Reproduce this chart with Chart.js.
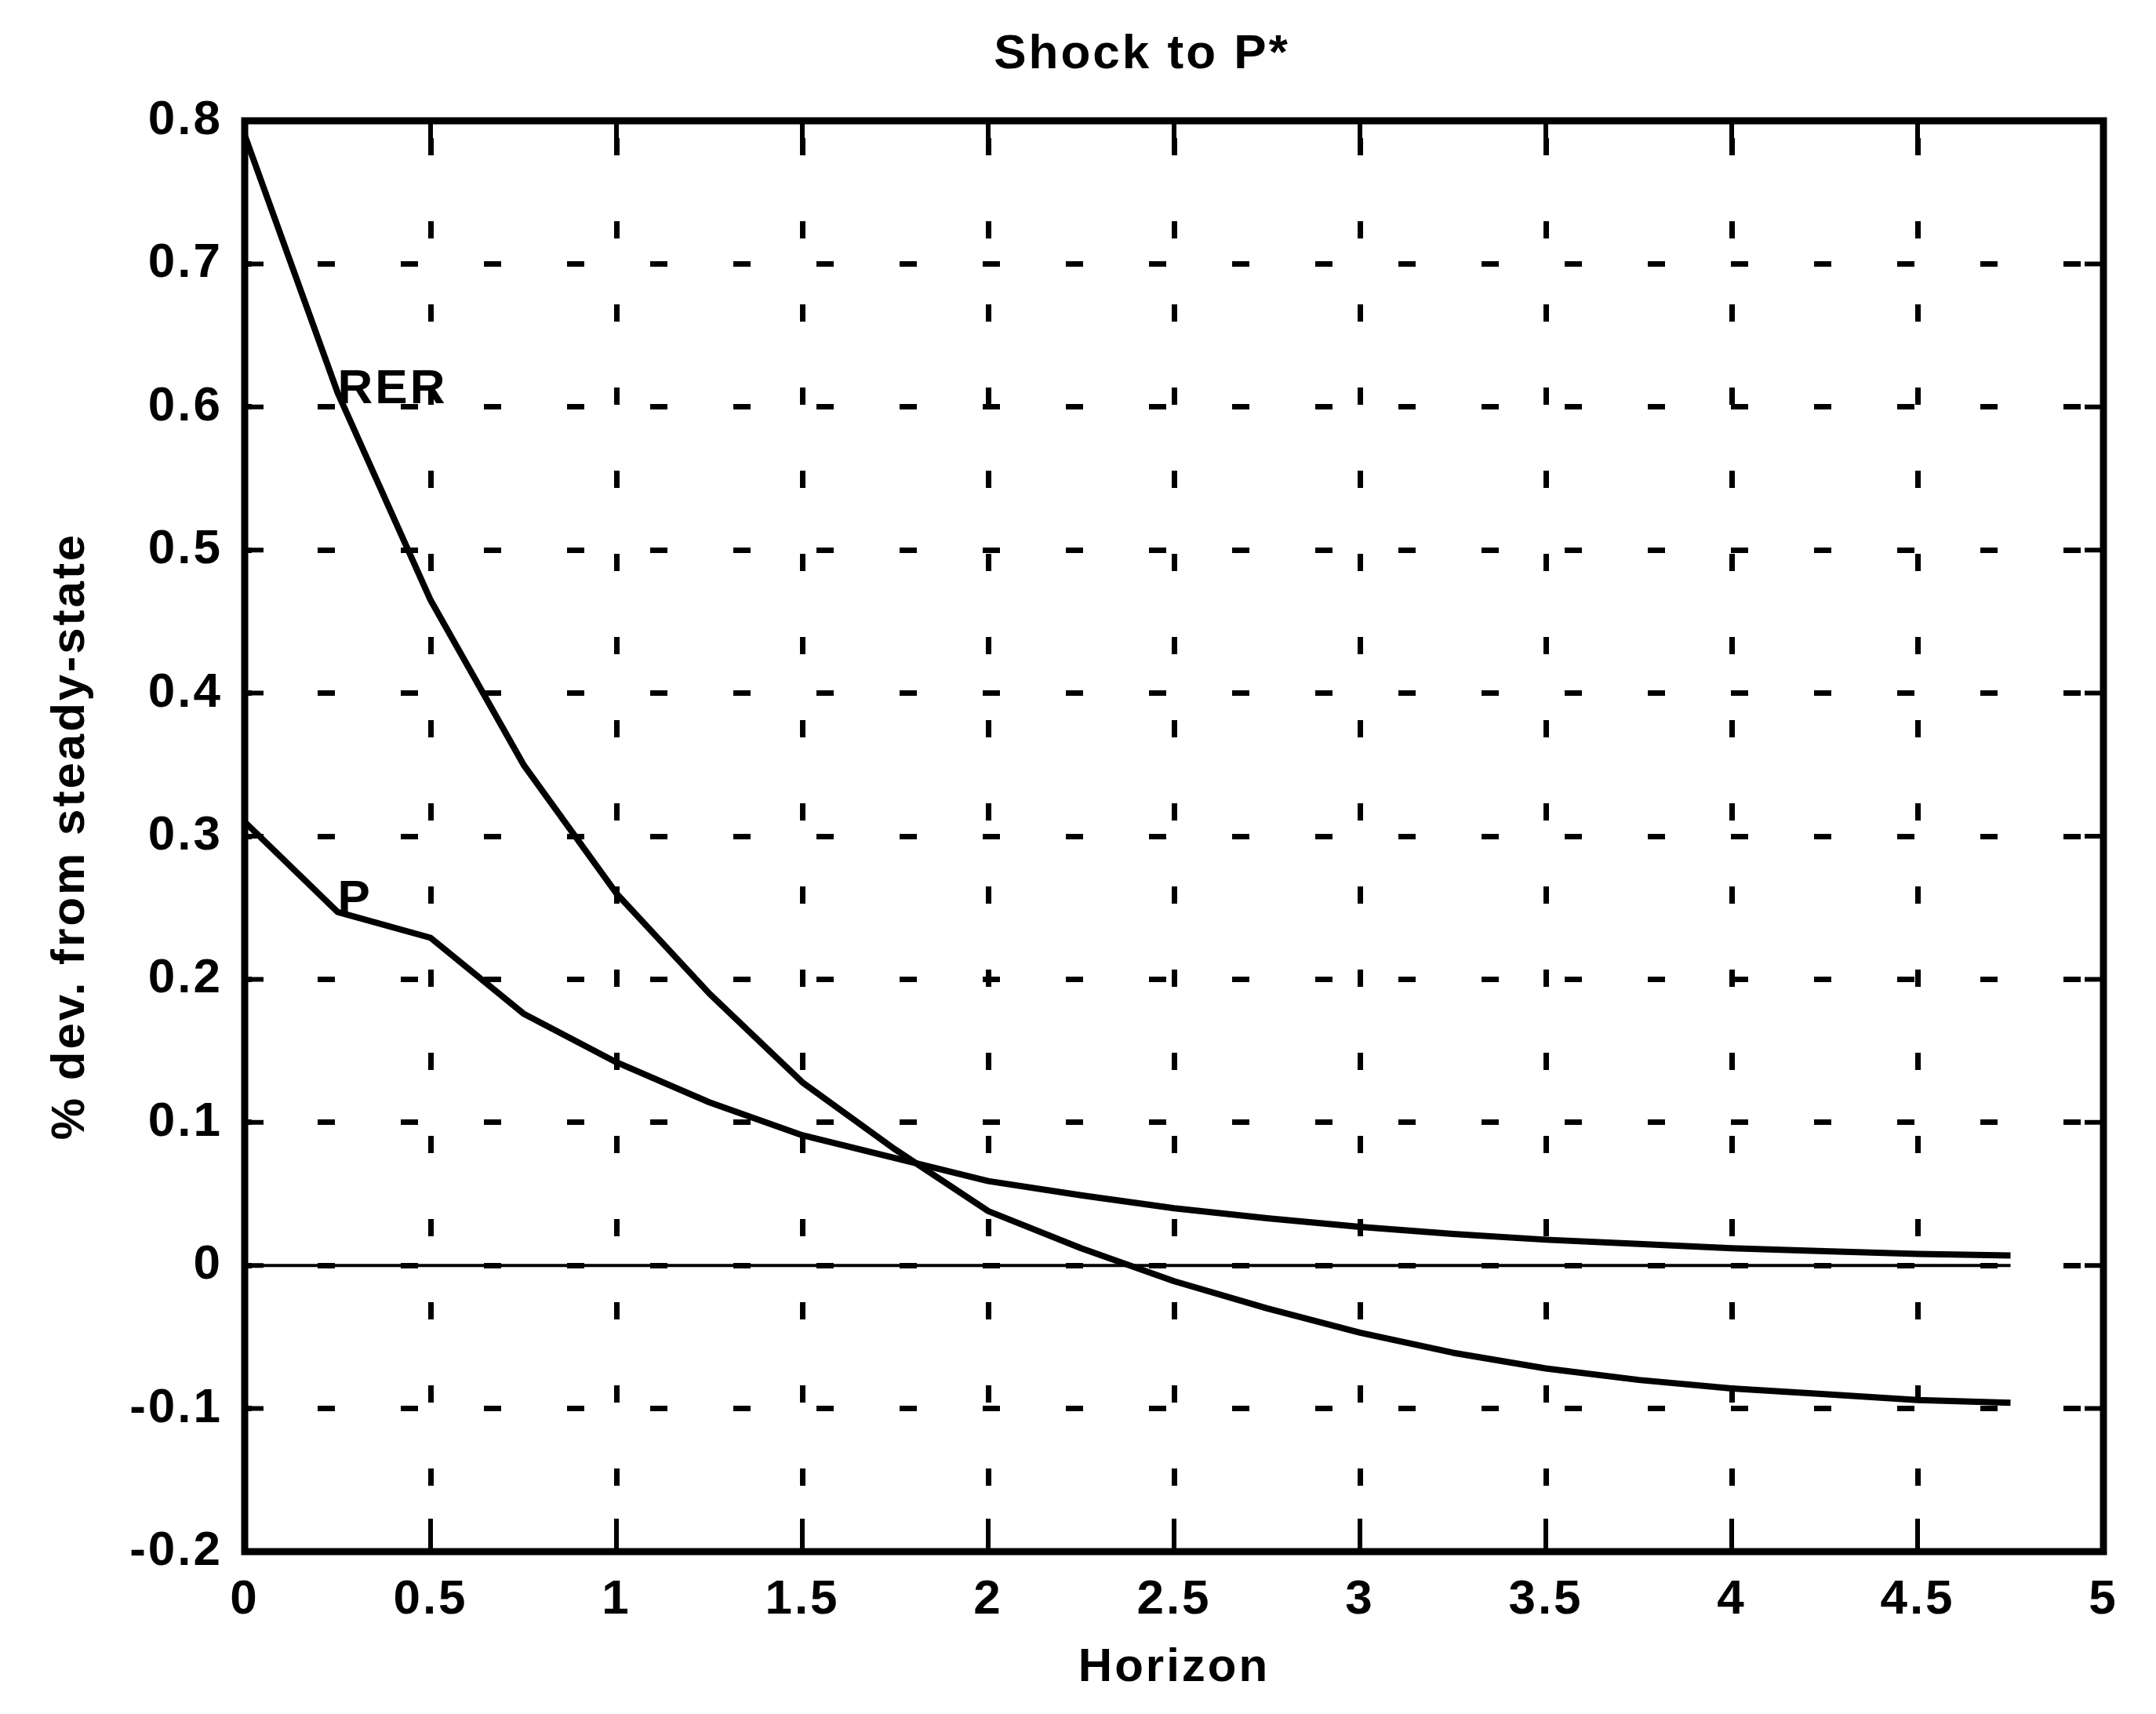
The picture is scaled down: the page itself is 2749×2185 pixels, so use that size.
<!DOCTYPE html>
<html>
<head>
<meta charset="utf-8">
<title>Shock to P*</title>
<script src="https://cdn.jsdelivr.net/npm/chart.js@4.4.1/dist/chart.umd.min.js"></script>
<style>
  html, body { margin: 0; padding: 0; background: #fff; }
  canvas { display: block; }
</style>
</head>
<body>
<canvas id="chart" width="2749" height="2185"></canvas>
<script>
// horizon in years, quarterly steps
const horizon = [0, 0.25, 0.5, 0.75, 1, 1.25, 1.5, 1.75, 2, 2.25,
                 2.5, 2.75, 3, 3.25, 3.5, 3.75, 4, 4.25, 4.5, 4.75];

// % deviation from steady state after the shock
const rer = [0.79, 0.61, 0.465, 0.35, 0.26, 0.19, 0.128, 0.081, 0.038, 0.012,
             -0.011, -0.03, -0.047, -0.061, -0.072, -0.08, -0.086, -0.09, -0.094, -0.096];
const price = [0.31, 0.247, 0.229, 0.176, 0.142, 0.114, 0.091, 0.075, 0.059, 0.049,
               0.04, 0.033, 0.027, 0.022, 0.018, 0.015, 0.012, 0.01, 0.008, 0.007];
const zeroLine = [0, 0, 0, 0, 0, 0, 0, 0, 0, 0,
                  0, 0, 0, 0, 0, 0, 0, 0, 0, 0];

const xTicks = [0, 0.5, 1, 1.5, 2, 2.5, 3, 3.5, 4, 4.5, 5];
const xTickLabels = ['0', '0.5', '1', '1.5', '2', '2.5', '3', '3.5', '4', '4.5', '5'];
const yTicks = [-0.2, -0.1, 0, 0.1, 0.2, 0.3, 0.4, 0.5, 0.6, 0.7, 0.8];
const yTickLabels = ['-0.2', '-0.1', '0', '0.1', '0.2', '0.3', '0.4', '0.5', '0.6', '0.7', '0.8'];

// text labels placed next to the curves (data units)
const curveLabels = [
    { text: 'RER', x: 0.25, y: 0.612 },
    { text: 'P', x: 0.25, y: 0.255 }
];

const FONT = '"Liberation Sans", Arial, Helvetica, sans-serif';

function points(values) {
    return horizon.map((h, i) => ({ x: h, y: values[i] }));
}

// box around the axes, inward ticks on every side, curve labels and title
const matlabFrame = {
    id: 'matlabFrame',
    beforeDraw(chart) {
        chart.ctx.letterSpacing = '3px';
    },
    afterDatasetsDraw(chart) {
        const { ctx, scales: { x, y } } = chart;
        ctx.save();
        ctx.font = `bold 62px ${FONT}`;
        ctx.fillStyle = '#000';
        ctx.textAlign = 'left';
        ctx.textBaseline = 'middle';
        curveLabels.forEach(l => {
            ctx.fillText(l.text, x.getPixelForValue(l.x), y.getPixelForValue(l.y));
        });
        ctx.restore();
    },
    afterDraw(chart) {
        const { ctx, chartArea: a, scales: { x, y } } = chart;
        ctx.save();
        ctx.strokeStyle = '#000';
        ctx.lineWidth = 6;
        ctx.beginPath();
        xTicks.forEach(v => {
            const px = x.getPixelForValue(v);
            ctx.moveTo(px, a.bottom);
            ctx.lineTo(px, a.bottom - 42);
            ctx.moveTo(px, a.top);
            ctx.lineTo(px, a.top + 42);
        });
        yTicks.forEach(v => {
            const py = y.getPixelForValue(v);
            ctx.moveTo(a.left, py);
            ctx.lineTo(a.left + 24, py);
            ctx.moveTo(a.right, py);
            ctx.lineTo(a.right - 24, py);
        });
        ctx.stroke();

        ctx.lineWidth = 9;
        ctx.strokeRect(a.left, a.top, a.right - a.left, a.bottom - a.top);

        ctx.font = `bold 62px ${FONT}`;
        ctx.fillStyle = '#000';
        ctx.textAlign = 'center';
        ctx.textBaseline = 'middle';
        ctx.fillText('Shock to P*', 1456, 70);
        ctx.restore();
    }
};

const tickFont = { family: FONT, size: 62, weight: 'bold' };
const titleFont = { family: FONT, size: 60, weight: 'bold' };

new Chart(document.getElementById('chart'), {
    type: 'line',
    data: {
        datasets: [
            { label: 'RER', data: points(rer), borderColor: '#000', borderWidth: 8 },
            { label: 'P', data: points(price), borderColor: '#000', borderWidth: 8 },
            { label: 'zero', data: points(zeroLine), borderColor: '#000', borderWidth: 4 }
        ]
    },
    options: {
        responsive: false,
        devicePixelRatio: 1,
        animation: false,
        events: [],
        layout: { padding: { top: 154, right: 67, bottom: 0, left: 0 } },
        elements: {
            point: { radius: 0 },
            line: { tension: 0, fill: false, borderJoinStyle: 'round' }
        },
        plugins: {
            legend: { display: false },
            tooltip: { enabled: false },
            title: { display: false }
        },
        scales: {
            x: {
                type: 'linear',
                min: 0,
                max: 5,
                afterBuildTicks: s => { s.ticks = xTicks.map(v => ({ value: v })); },
                afterFit: s => { s.height = 207; },
                ticks: {
                    callback: (v, i) => xTickLabels[i],
                    color: '#000',
                    font: tickFont,
                    padding: 25,
                    autoSkip: false,
                    maxRotation: 0
                },
                grid: { color: '#000', lineWidth: 7, drawTicks: false },
                border: { display: false, dash: [22, 84], dashOffset: 84 },
                title: {
                    display: true,
                    text: 'Horizon',
                    color: '#000',
                    font: titleFont,
                    padding: { top: 0, bottom: 23 }
                }
            },
            y: {
                type: 'linear',
                min: -0.2,
                max: 0.8,
                afterBuildTicks: s => { s.ticks = yTicks.map(v => ({ value: v })); },
                afterFit: s => { s.width = 312; },
                ticks: {
                    callback: (v, i) => yTickLabels[i],
                    color: '#000',
                    font: tickFont,
                    padding: 28,
                    autoSkip: false
                },
                grid: { color: '#000', lineWidth: 7, drawTicks: false },
                border: { display: false, dash: [22, 84], dashOffset: 13 },
                title: {
                    display: true,
                    text: '% dev. from steady-state',
                    color: '#000',
                    font: titleFont,
                    padding: { top: 54, bottom: 0 }
                }
            }
        }
    },
    plugins: [matlabFrame]
});
</script>
</body>
</html>
